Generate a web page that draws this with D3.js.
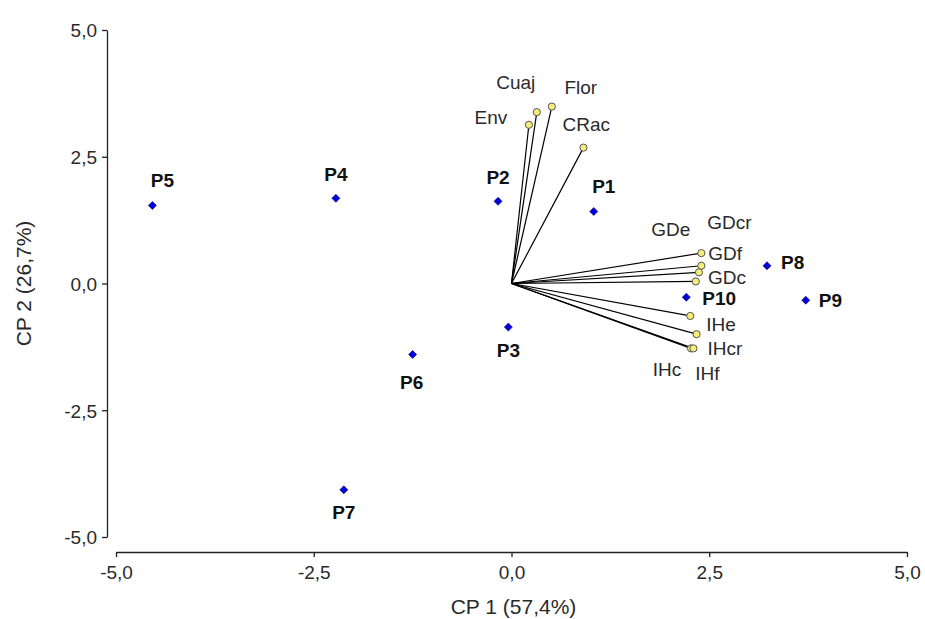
<!DOCTYPE html>
<html><head><meta charset="utf-8">
<script src="https://cdn.jsdelivr.net/npm/d3@7"></script>
<style>body{margin:0;background:#fff}svg{display:block}</style>
</head><body>
<svg id="chart" width="925" height="619"></svg>
<script>
// Observations (scores)
const pointNames = ["P1","P2","P3","P4","P5","P6","P7","P8","P9","P10"];
const pointX = [1.04,-0.17,-0.04,-2.22,-4.54,-1.25,-2.12,3.23,3.72,2.21];
const pointY = [1.42,1.62,-0.86,1.68,1.54,-1.40,-4.07,0.35,-0.33,-0.27];

// Variables (loadings)
const varNames = ["Env","Cuaj","Flor","CRac","GDf","GDcr","GDc","GDe","IHe","IHcr","IHc","IHf"];
const varX = [0.22,0.32,0.51,0.91,2.40,2.40,2.37,2.33,2.26,2.34,2.27,2.30];
const varY = [3.13,3.38,3.49,2.68,0.60,0.35,0.22,0.04,-0.64,-1.00,-1.28,-1.28];

const xTicks = [-5,-2.5,0,2.5,5];
const yTicks = [-5,-2.5,0,2.5,5];
const xTitle = "CP 1 (57,4%)";
const yTitle = "CP 2 (26,7%)";

// ---- layout (label placement relative to marks: [dx, dy, anchor]) ----
const pointLabelLayout = {
  P1:[10,-25,"middle"], P2:[0,-24,"middle"], P3:[0,23,"middle"], P4:[0,-24,"middle"],
  P5:[10,-25,"middle"], P6:[-1,28,"middle"], P7:[0,23,"middle"],
  P8:[14,-3,"start"], P9:[13,0,"start"], P10:[16,1,"start"]
};
const varLabelLayout = {
  Env:[-38,-7,"middle"], Cuaj:[-21,-30,"middle"], Flor:[29,-19,"middle"], CRac:[-21,-23,"start"],
  GDf:[7,0,"start"], GDcr:[28,-43,"middle"], GDc:[9,5,"start"], GDe:[-25,-52,"middle"],
  IHe:[16,8,"start"], IHcr:[11,14,"start"], IHc:[-24,21,"middle"], IHf:[14,25,"middle"]
};

const svg = d3.select("#chart");
const x = d3.scaleLinear().domain([-5,5]).range([116,907]);
const y = d3.scaleLinear().domain([-5,5]).range([537,30]);
const fmt = v => d3.format(".1f")(v).replace(".",",").replace("−","-");
const font = "Liberation Sans, Arial, sans-serif";
const textCol = "#2a2a2a";

// Axes
const xAxis = svg.append("g").attr("transform","translate(0,552)")
  .call(d3.axisBottom(x).tickValues(xTicks).tickFormat(fmt).tickSize(5).tickSizeOuter(0));
const yAxis = svg.append("g").attr("transform","translate(107,0)")
  .call(d3.axisLeft(y).tickValues(yTicks).tickFormat(fmt).tickSize(5).tickSizeOuter(0));
[xAxis,yAxis].forEach(g=>{
  g.selectAll("path,line").attr("stroke","#222").attr("stroke-width",1.3);
  g.selectAll("text").attr("font-family",font).attr("font-size",19).attr("fill",textCol);
});
xAxis.selectAll("text").attr("dy","1.0em");
yAxis.selectAll("text").attr("dx","-2").attr("dy","0.36em");

svg.append("text").attr("x",(x(-5)+x(5))/2 + 2).attr("y",614).attr("text-anchor","middle")
  .attr("font-family",font).attr("font-size",21).attr("fill",textCol).text(xTitle);
svg.append("text").attr("transform",`translate(31,${(y(-5)+y(5))/2}) rotate(-90)`)
  .attr("text-anchor","middle").attr("font-family",font).attr("font-size",21).attr("fill",textCol).text(yTitle);

// Vectors
const vars = varNames.map((n,i)=>({n,x:varX[i],y:varY[i]}));
svg.append("g").selectAll("line").data(vars).join("line")
  .attr("x1",x(0)).attr("y1",y(0)).attr("x2",d=>x(d.x)).attr("y2",d=>y(d.y))
  .attr("stroke","#000").attr("stroke-width",1.2);
svg.append("g").selectAll("circle").data(vars).join("circle")
  .attr("cx",d=>x(d.x)).attr("cy",d=>y(d.y)).attr("r",3.6)
  .attr("fill","#f6ee7a").attr("stroke","#555").attr("stroke-width",1);
svg.append("g").selectAll("text").data(vars).join("text")
  .attr("x",d=>x(d.x)+varLabelLayout[d.n][0])
  .attr("y",d=>y(d.y)+varLabelLayout[d.n][1])
  .attr("dy","0.35em")
  .attr("text-anchor",d=>varLabelLayout[d.n][2])
  .attr("font-family",font).attr("font-size",19).attr("fill",textCol).text(d=>d.n);

// Points
const pts = pointNames.map((n,i)=>({n,x:pointX[i],y:pointY[i]}));
svg.append("g").selectAll("path").data(pts).join("path")
  .attr("d",d3.symbol().type(d3.symbolSquare).size(32))
  .attr("transform",d=>`translate(${x(d.x)},${y(d.y)}) rotate(45)`)
  .attr("fill","#0000e0").attr("stroke","#000066").attr("stroke-width",0.6);
svg.append("g").selectAll("text").data(pts).join("text")
  .attr("x",d=>x(d.x)+pointLabelLayout[d.n][0])
  .attr("y",d=>y(d.y)+pointLabelLayout[d.n][1])
  .attr("dy","0.35em")
  .attr("text-anchor",d=>pointLabelLayout[d.n][2])
  .attr("font-family",font).attr("font-size",19).attr("font-weight","bold").attr("fill","#111").text(d=>d.n);
</script>
</body></html>
